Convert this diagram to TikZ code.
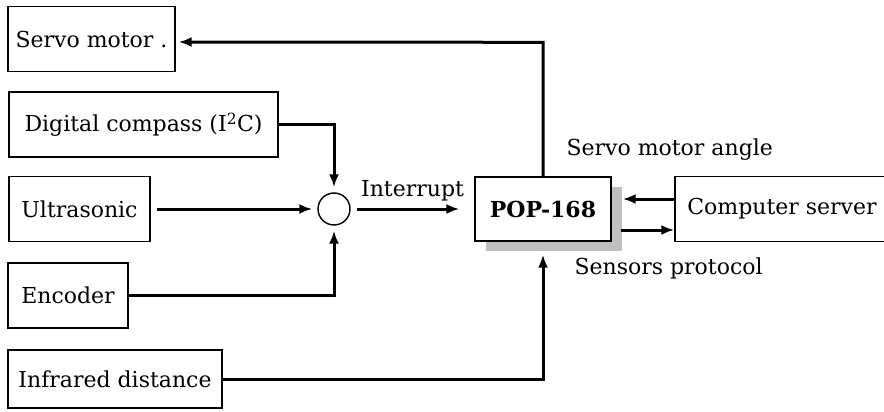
\documentclass[tikz,border=0pt]{standalone}
\usepackage{fontspec}
\setmainfont{DejaVu Serif}
\usetikzlibrary{arrows.meta,positioning,shadows}

\begin{document}
\begin{tikzpicture}[x=1pt,y=-1pt,>={Latex[length=13pt,width=10pt]},
  font=\fontsize{22}{26}\selectfont,
  blk/.style={draw,line width=1.4pt,inner sep=0pt,minimum height=65pt},
  cpu/.style={blk,fill=white,font=\fontsize{22}{26}\selectfont\bfseries,
    drop shadow={shadow xshift=11pt,shadow yshift=-10pt,fill=gray!50,opacity=1}},
  sumc/.style={draw,circle,line width=1.4pt,minimum size=32pt,inner sep=0pt},
  arr/.style={->,line width=3pt}]
  \useasboundingbox (0,0) rectangle (884,412);
  % sensor and actuator blocks
  \node[blk,minimum width=167pt] (servo) at (91.5,39) {Servo motor .};
  \node[blk,minimum width=269pt] (compass) at (143.5,124.5) {Digital compass (I\textsuperscript{2}C)};
  \node[blk,minimum width=141pt] (ultra) at (79.5,209) {Ultrasonic};
  \node[blk,minimum width=120pt] (enc) at (68,295.5) {Encoder};
  \node[blk,minimum width=214pt,minimum height=58pt] (ir) at (115,379) {Infrared distance};
  \node[sumc] (sum) at (334,209) {};
  \node[cpu,minimum width=136pt,minimum height=64pt] (pop) at (543,209) {POP-168};
  \node[blk,minimum width=214pt] (server) at (782,209) {Computer server};
  % connections
  \draw[arr,shorten >=5pt] (compass.east) -| (sum.north);
  \draw[arr,shorten <=6pt,shorten >=5pt] (ultra.east) -- (sum.west);
  \draw[arr,shorten >=5pt] (enc.east) -| (sum.south);
  \draw[arr,shorten <=6pt,shorten >=15pt] (sum.east) -- node[above=3pt] {Interrupt} (pop.west);
  \draw[arr,shorten >=3pt] (pop.north) -| ++(0,-134) -- ([yshift=-3pt]servo.east);
  \draw[arr] (ir.east) -| ([yshift=-13pt]pop.south);
  \draw[arr] ([yshift=10pt]server.west) -- ([yshift=10pt,xshift=11pt]pop.east);
  \draw[arr] ([yshift=-21pt,xshift=9pt]pop.east) -- ([yshift=-21pt]server.west);
  % labels
  \node[anchor=west] (anglelbl) at (563,150) {Servo motor angle};
  \node[anchor=west] (protolbl) at (571,268) {Sensors protocol};
\end{tikzpicture}
\end{document}
